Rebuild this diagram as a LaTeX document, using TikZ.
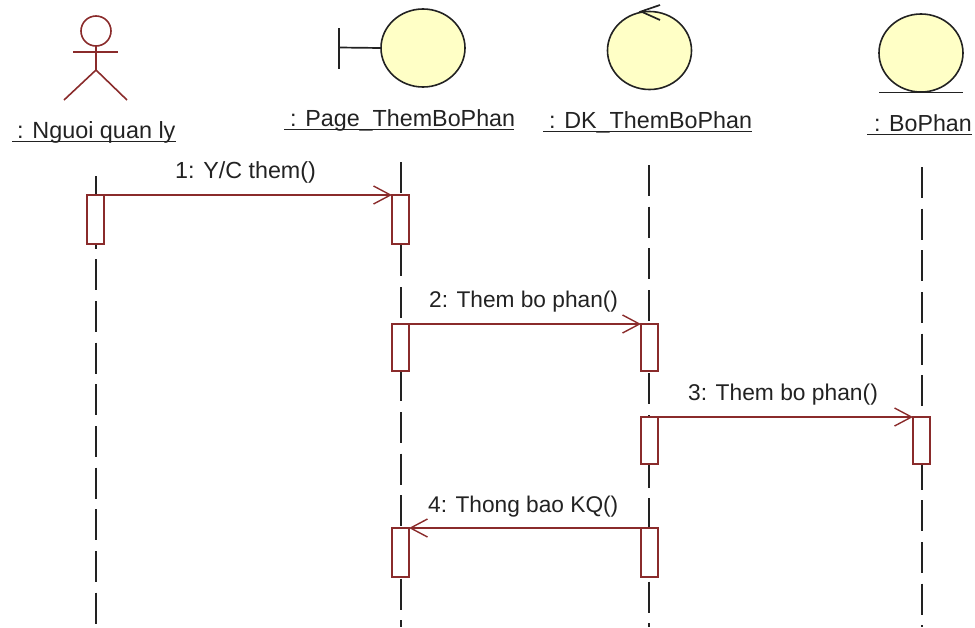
\documentclass[tikz,border=0pt]{standalone}
\usepackage{fontspec}
\setmainfont{Liberation Sans}
\usetikzlibrary{arrows.meta,shapes.geometric}
\definecolor{umlred}{HTML}{8A2B2B}
\definecolor{umlfill}{HTML}{FFFFC6}
\definecolor{umlline}{HTML}{222222}
\tikzset{
  lifeline/.style={draw=umlline,line width=1.7pt,dash pattern=on 31pt off 10.67pt},
  bar/.style={draw=umlred,fill=white,line width=1.9pt,minimum width=17pt,inner sep=0pt,outer sep=0pt},
  barshort/.style={bar,minimum height=47pt},
  barlong/.style={bar,minimum height=49pt},
  msg/.style={draw=umlred,line width=1.9pt,-{Straight Barb[length=17pt,width=18pt,line width=1.4pt]}},
  robust/.style={draw=umlline,fill=umlfill,line width=1.6pt,ellipse,minimum width=84pt,minimum height=78pt,inner sep=0pt,outer sep=0pt},
  glyph/.style={draw=umlline,line width=1.7pt},
  actor/.style={draw=umlred,line width=1.6pt},
  rule/.style={draw=umlline,line width=1.7pt},
  objlabel/.style={inner sep=0pt,text=umlline,anchor=base west},
  msglabel/.style={inner sep=0pt,text=umlline,anchor=base west},
}
\begin{document}
\begin{tikzpicture}[x=1pt,y=-1pt]
\useasboundingbox (0,0) rectangle (975,627);
% lifelines
\coordinate (l1a) at (96,176); \coordinate (l1b) at (96,627);
\coordinate (l2a) at (401,162); \coordinate (l2b) at (401,627);
\coordinate (l3a) at (649,165); \coordinate (l3b) at (649,627);
\coordinate (l4a) at (922,167); \coordinate (l4b) at (922,627);
\draw[lifeline] (l1a) -- (l1b);
\draw[lifeline] (l2a) -- (l2b);
\draw[lifeline] (l3a) -- (l3b);
\draw[lifeline] (l4a) -- (l4b);
% activations
\node[barlong]  (a1) at (95.5,219.5) {};
\node[barlong]  (a2) at (400.5,219.5) {};
\node[barshort] (b2) at (400.5,347.5) {};
\node[barshort] (b3) at (649.5,347.5) {};
\node[barshort] (c3) at (649.5,440.5) {};
\node[barshort] (c4) at (921.5,440.5) {};
\node[barlong]  (d2) at (400.5,552.5) {};
\node[barlong]  (d3) at (649.5,552.5) {};
% messages
\draw[msg] (a1.north east) -- (a2.north west);
\draw[msg] (b2.north east) -- (b3.north west);
\draw[msg] (c3.north east) -- (c4.north west);
\draw[msg] (d3.north west) -- (d2.north east);
\node[msglabel,font=\fontsize{23.3}{26}\selectfont] (m1) at (175,178) {1: Y/C them()};
\node[msglabel,font=\fontsize{22.7}{26}\selectfont] (m2) at (429,307) {2: Them bo phan()};
\node[msglabel,font=\fontsize{22.8}{26}\selectfont] (m3) at (688,400) {3: Them bo phan()};
\node[msglabel,font=\fontsize{22.7}{26}\selectfont] (m4) at (428,512) {4: Thong bao KQ()};
% actor
\node[draw=umlred,line width=1.6pt,circle,minimum size=30pt,inner sep=0pt,outer sep=0pt] (head) at (96,31) {};
\coordinate (armL) at (73,52); \coordinate (armR) at (118,52);
\coordinate (hip) at (96,70); \coordinate (legL) at (64,100); \coordinate (legR) at (127,100);
\draw[actor] (head.south) -- (hip);
\draw[actor] (armL) -- (armR);
\draw[actor] (legL) -- (hip) -- (legR);
% boundary
\node[robust] (pg) at (423,48) {};
\coordinate (bt) at (339,28); \coordinate (bb) at (339,69); \coordinate (bm) at (339,47.5);
\draw[glyph] (bt) -- (bb);
\draw[glyph] (bm) -- (pg.west);
% control
\node[robust] (dk) at (649.5,50.5) {};
\coordinate (ctip) at (641,11.5); \coordinate (cu) at (660,5); \coordinate (cd) at (660,20);
\draw[glyph] (cu) -- (ctip) -- (cd);
% entity
\node[robust] (bp) at (921,53) {};
\coordinate (el) at (879,92.5); \coordinate (er) at (963,92.5);
\draw[glyph] (el) -- (er);
% object labels
\node[objlabel,font=\fontsize{23.4}{26}\selectfont] (n1) at (17,138) {: Nguoi quan ly};
\node[objlabel,font=\fontsize{23.3}{26}\selectfont] (n2) at (290,126) {: Page\_ThemBoPhan};
\node[objlabel,font=\fontsize{23.3}{26}\selectfont] (n3) at (549,128) {: DK\_ThemBoPhan};
\node[objlabel,font=\fontsize{23.2}{26}\selectfont] (n4) at (874,131) {: BoPhan};
\coordinate (u1a) at (12,141.5); \coordinate (u1b) at (176,141.5);
\coordinate (u2a) at (284,129.5); \coordinate (u2b) at (514,129.5);
\coordinate (u3a) at (543,131.5); \coordinate (u3b) at (752,131.5);
\coordinate (u4a) at (867,134.5); \coordinate (u4b) at (972,134.5);
\draw[rule] (u1a) -- (u1b);
\draw[rule] (u2a) -- (u2b);
\draw[rule] (u3a) -- (u3b);
\draw[rule] (u4a) -- (u4b);
\end{tikzpicture}
\end{document}
